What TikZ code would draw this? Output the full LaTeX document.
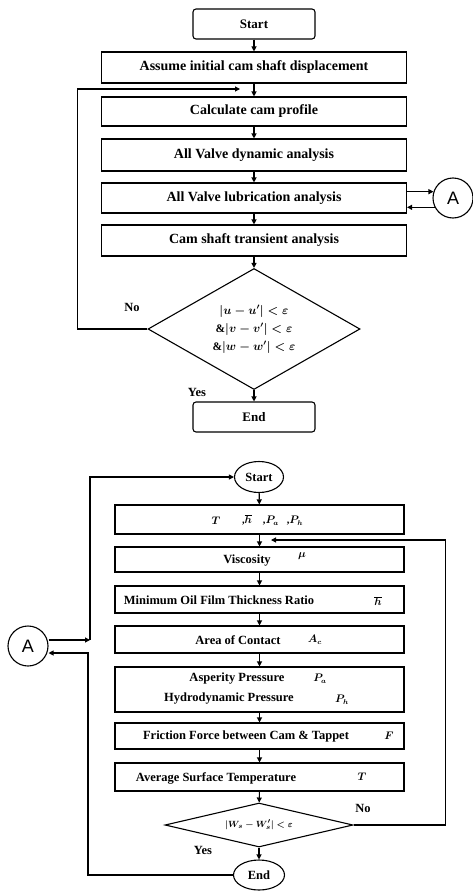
\documentclass[tikz,border=0pt]{standalone}
\usepackage{fontspec}
\setmainfont{Liberation Serif}
\setsansfont{Liberation Sans}
\usetikzlibrary{arrows.meta,shapes.geometric,calc}
\begin{document}
\begin{tikzpicture}[x=1pt,y=-1pt, line width=1.1pt,
  font=\bfseries\boldmath\fontsize{10.5}{12.5}\selectfont,
  big/.style={font=\bfseries\boldmath\fontsize{14}{16}\selectfont},
  mid/.style={font=\bfseries\boldmath\fontsize{12.5}{14}\selectfont},
  box/.style={draw, rectangle, inner sep=0pt, minimum width=305pt, big},
  boxb/.style={draw, rectangle, inner sep=0pt, minimum width=289pt},
  rbox/.style={draw, rounded corners=3pt, minimum width=122pt, minimum height=30pt, inner sep=0pt,
    font=\bfseries\fontsize{13}{15}\selectfont},
  ell/.style={draw, ellipse, inner sep=0pt, minimum width=49pt, minimum height=31pt, mid},
  dia/.style={draw, diamond, inner sep=0pt, align=center},
  conn/.style={draw, circle, inner sep=0pt, minimum size=40pt, font=\sffamily\fontsize{18}{18}\selectfont},
  arr/.style={-{Triangle[length=5pt,width=5pt]}},
  lbl/.style={inner sep=0pt, mid},
  sym/.style={inner sep=0pt}]
\useasboundingbox (0,0) rectangle (473,891);

% ---------- top flowchart ----------
\node[rbox] (s1) at (254,24) {Start};
\node[box, minimum height=31pt] (a1) at (254,67.5) {Assume initial cam shaft displacement};
\node[box, minimum height=29pt] (c1) at (254,111.5) {Calculate cam profile};
\node[box, minimum height=32pt] (d1) at (254,155) {All Valve dynamic analysis};
\node[box, minimum height=30pt] (l1) at (254,198) {All Valve lubrication analysis};
\node[box, minimum height=31pt] (t1) at (254,240.5) {Cam shaft transient analysis};
\node[dia, minimum width=212pt, minimum height=121pt, aspect=1.75,
  font=\bfseries\boldmath\fontsize{11.5}{13}\selectfont] (q1) at (254,329)
  {$|u-u'|<\varepsilon$\\[5pt] $\&|v-v'|<\varepsilon$\\[5pt] $\&|w-w'|<\varepsilon$};
\node[rbox] (e1) at (254,417) {End};
\node[conn] (A1) at (453,198) {A};
\coordinate (fb1) at (240,89);

\draw[arr] (s1) -- (a1);
\draw[arr] (a1) -- (c1);
\draw[arr] (c1) -- (d1);
\draw[arr] (d1) -- (l1);
\draw[arr] (l1) -- (t1);
\draw[arr] (t1) -- (q1);
\draw[arr] (q1) -- (e1);
\draw[arr] (q1.west) -- ++(-70,0) |- (fb1);
\draw[arr] (l1.east |- A1.162) -- (A1.162);
\draw[arr] (A1.207) -- (l1.east |- A1.207);
\node[lbl] (no1) at (132,307) {No};
\node[lbl] (yes1) at (197,392) {Yes};

% ---------- bottom flowchart ----------
\node[ell] (s2) at (259,477) {Start};
\node[boxb, minimum height=29pt] (i2) at (259.5,519.5) {};
\node[boxb, minimum height=25pt] (v2) at (259.5,559.5) {};
\node[boxb, minimum height=27pt] (f2) at (259.5,599.5) {};
\node[boxb, minimum height=27pt] (r2) at (259.5,639.5) {};
\node[boxb, minimum height=45pt] (p2) at (259.5,689.5) {};
\node[boxb, minimum height=26pt] (w2) at (259.5,736) {};
\node[boxb, minimum height=28pt] (m2) at (259.5,777) {};
\node[dia, minimum width=188pt, minimum height=44pt, aspect=4.27,
  font=\bfseries\boldmath\fontsize{9.5}{11}\selectfont] (q2) at (259,825)
  {$|W_s-W_s'|<\varepsilon$};
\node[ell, minimum width=51pt, minimum height=30pt] (e2) at (259,875) {End};
\node[conn] (A2) at (28,646) {A};

\node[sym] (ti1) at (216,521) {$T$};
\node[sym] (ti2) at (247,520) {,$\overline{h}$};
\node[sym] (ti3) at (271,521) {,$P_a$};
\node[sym] (ti4) at (295,521) {,$P_h$};
\node[lbl] (tv) at (247,561) {Viscosity};
\node[sym] (sv) at (302,556) {$\mu$};
\node[lbl] (tf) at (219,600) {Minimum Oil Film Thickness Ratio};
\node[sym] (sf) at (378,601) {$\overline{h}$};
\node[lbl] (tr) at (238,640) {Area of Contact};
\node[sym] (sr) at (315,640) {$A_c$};
\node[lbl] (tp1) at (237,679) {Asperity Pressure};
\node[sym] (sp1) at (320,679) {$P_a$};
\node[lbl] (tp2) at (229,699) {Hydrodynamic Pressure};
\node[sym] (sp2) at (342,700) {$P_h$};
\node[lbl] (tw) at (246,736) {Friction Force between Cam \& Tappet};
\node[sym] (sw) at (389,736) {$F$};
\node[lbl] (tm) at (216,778) {Average Surface Temperature};
\node[sym] (sm) at (362,777) {$T$};

\coordinate (fb2) at (271,540);
\coordinate (j1) at (90,640);
\coordinate (j2) at (88,653);

\draw[arr] (s2) -- (i2);
\draw[arr] (i2) -- (v2);
\draw[arr] (v2) -- (f2);
\draw[arr] (f2) -- (r2);
\draw[arr] (r2) -- (p2);
\draw[arr] (p2) -- (w2);
\draw[arr] (w2) -- (m2);
\draw[arr] (m2) -- (q2);
\draw[arr] (q2) -- (e2);
\draw[arr] (q2.east) -- ++(92,0) |- (fb2);
\draw[arr] (A2.east |- j1) -- (j1);
\draw[arr] (j1) |- (s2.west);
\draw[arr] (e2.west) -| (j2) -- (A2.east |- j2);
\node[lbl] (no2) at (363,808) {No};
\node[lbl] (yes2) at (203,850) {Yes};
\end{tikzpicture}
\end{document}
